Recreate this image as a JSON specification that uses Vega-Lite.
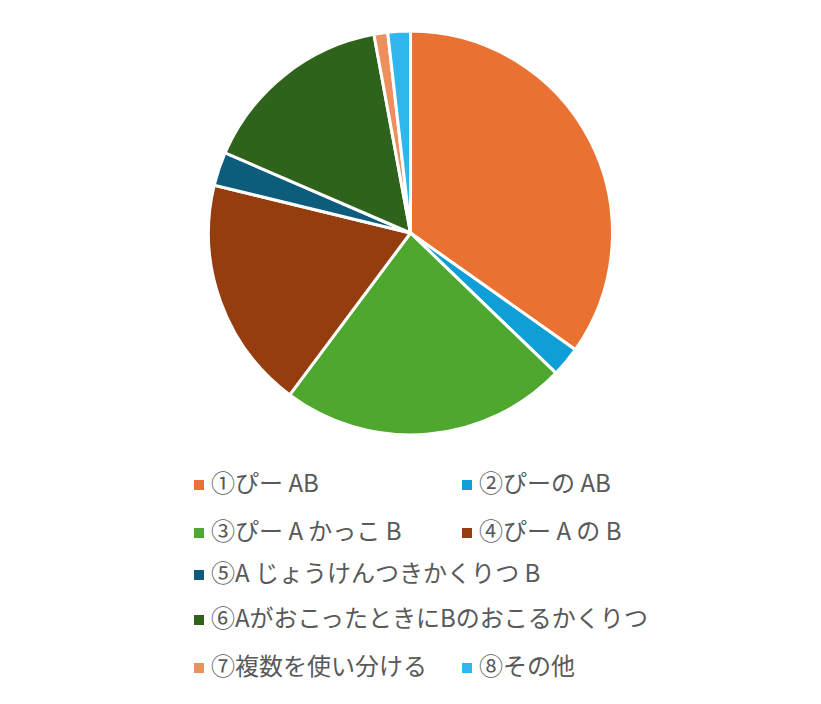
{
  "$schema": "https://vega.github.io/schema/vega-lite/v6.json",
  "width": 821,
  "height": 466,
  "padding": {"left": 0, "top": 0, "right": 0, "bottom": 238},
  "autosize": {"type": "none"},
  "background": "white",
  "config": {"view": {"stroke": null}, "font": "Noto Sans CJK JP"},
  "data": {"values": [
    {"item": "①ぴー AB", "value": 34.8},
    {"item": "②ぴーの AB", "value": 2.4},
    {"item": "③ぴー A かっこ B", "value": 23.0},
    {"item": "④ぴー A の B", "value": 18.6},
    {"item": "⑤A じょうけんつきかくりつ B", "value": 2.7},
    {"item": "⑥AがおこったときにBのおこるかくりつ", "value": 15.6},
    {"item": "⑦複数を使い分ける", "value": 1.1},
    {"item": "⑧その他", "value": 1.8}
  ]},
  "encoding": {
    "theta": {"field": "value", "type": "quantitative", "stack": true}
  },
  "layer": [
    {
      "mark": {"type": "arc", "outerRadius": 202, "stroke": "white", "strokeWidth": 3},
      "encoding": {
        "color": {
          "field": "item", "type": "nominal",
          "scale": {
            "domain": ["①ぴー AB", "②ぴーの AB", "③ぴー A かっこ B", "④ぴー A の B", "⑤A じょうけんつきかくりつ B", "⑥AがおこったときにBのおこるかくりつ", "⑦複数を使い分ける", "⑧その他"],
            "range": ["#E97132", "#0F9ED5", "#4EA72E", "#953D0F", "#0E5C7B", "#2F631C", "#EE8F5E", "#2FB6EC"]
          },
          "legend": {
            "values": ["①ぴー AB", "②ぴーの AB", "③ぴー A かっこ B", "④ぴー A の B"],
            "orient": "none", "legendX": 187, "legendY": 473, "direction": "horizontal",
            "columns": 2, "columnPadding": 53, "rowPadding": 24,
            "title": null, "padding": 0,
            "symbolType": "square", "symbolSize": 100, "symbolStrokeWidth": 0,
            "labelFontSize": 24, "labelColor": "#595959", "labelFont": "Noto Sans CJK JP",
            "labelLimit": 0, "labelOffset": 0
          }
        }
      }
    },
    {
      "mark": {"type": "arc", "outerRadius": 202, "stroke": "white", "strokeWidth": 3},
      "encoding": {
        "color": {
          "field": "item", "type": "nominal",
          "scale": {
            "domain": ["①ぴー AB", "②ぴーの AB", "③ぴー A かっこ B", "④ぴー A の B", "⑤A じょうけんつきかくりつ B", "⑥AがおこったときにBのおこるかくりつ", "⑦複数を使い分ける", "⑧その他"],
            "range": ["#E97132", "#0F9ED5", "#4EA72E", "#953D0F", "#0E5C7B", "#2F631C", "#EE8F5E", "#2FB6EC"]
          },
          "legend": {
            "values": ["⑤A じょうけんつきかくりつ B", "⑥AがおこったときにBのおこるかくりつ"],
            "orient": "none", "legendX": 187, "legendY": 563,
            "columns": 1, "rowPadding": 21,
            "title": null, "padding": 0,
            "symbolType": "square", "symbolSize": 100, "symbolStrokeWidth": 0,
            "labelFontSize": 24, "labelColor": "#595959", "labelFont": "Noto Sans CJK JP",
            "labelLimit": 0, "labelOffset": 0
          }
        }
      }
    },
    {
      "mark": {"type": "arc", "outerRadius": 202, "stroke": "white", "strokeWidth": 3},
      "encoding": {
        "color": {
          "field": "item", "type": "nominal",
          "scale": {
            "domain": ["①ぴー AB", "②ぴーの AB", "③ぴー A かっこ B", "④ぴー A の B", "⑤A じょうけんつきかくりつ B", "⑥AがおこったときにBのおこるかくりつ", "⑦複数を使い分ける", "⑧その他"],
            "range": ["#E97132", "#0F9ED5", "#4EA72E", "#953D0F", "#0E5C7B", "#2F631C", "#EE8F5E", "#2FB6EC"]
          },
          "legend": {
            "values": ["⑦複数を使い分ける", "⑧その他"],
            "orient": "none", "legendX": 187, "legendY": 656, "direction": "horizontal",
            "columns": 2, "columnPadding": 28, "rowPadding": 21,
            "title": null, "padding": 0,
            "symbolType": "square", "symbolSize": 100, "symbolStrokeWidth": 0,
            "labelFontSize": 24, "labelColor": "#595959", "labelFont": "Noto Sans CJK JP",
            "labelLimit": 0, "labelOffset": 0
          }
        }
      }
    }
  ],
  "resolve": {"scale": {"color": "independent"}}
}
